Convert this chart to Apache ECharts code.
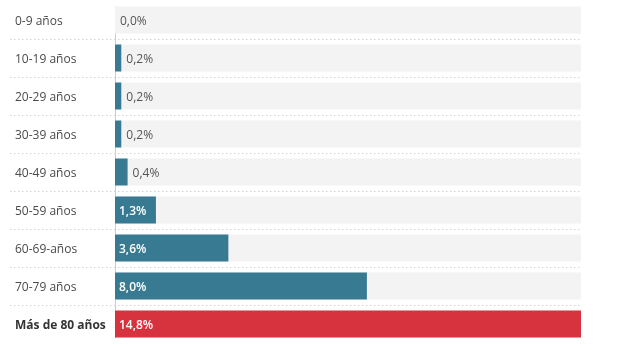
<!DOCTYPE html>
<html><head><meta charset="utf-8">
<script src="https://cdn.jsdelivr.net/npm/echarts@6/dist/echarts.min.js"></script>
<style>html,body{margin:0;padding:0;background:#fff}#c{width:618px;height:351px}</style>
</head><body><div id="c"></div>
<script>
const categories = ['0-9 años','10-19 años','20-29 años','30-39 años','40-49 años','50-59 años','60-69-años','70-79 años','Más de 80 años'];
const values = [0.0, 0.2, 0.2, 0.2, 0.4, 1.3, 3.6, 8.0, 14.8];
const highlight = 'Más de 80 años';
const insideThreshold = 1;
const maxValue = 14.8;

const FONT = '"Open Sans", sans-serif';
const fmt = v => v.toFixed(1).replace('.', ',') + '%';

const chart = echarts.init(document.getElementById('c'), null, {renderer: 'canvas'});
const data = values.map((v, i) => {
  const cat = categories[i];
  const inside = v >= insideThreshold;
  return {
    value: v,
    itemStyle: {color: cat === highlight ? '#d7333f' : '#377a92'},
    label: inside
      ? {position: 'insideLeft', distance: 4, color: '#fff', fontWeight: 600}
      : {position: 'right', distance: 5, color: '#555', fontWeight: 'normal'}
  };
});

chart.setOption({
  animation: false,
  grid: [
    {left: 10, right: 37, top: 1, height: 342},
    {left: 115, right: 37, top: 1, height: 342},
    {left: 115, right: 37, top: 7, height: 331}
  ],
  xAxis: [
    {gridIndex: 0, type: 'value', min: 0, max: 1, show: false},
    {gridIndex: 1, type: 'value', min: 0, max: maxValue, show: false},
    {gridIndex: 2, type: 'value', min: 0, max: 1, show: false}
  ],
  yAxis: [
    {gridIndex: 0, type: 'category', inverse: true, data: categories,
     axisLine: {show: false}, axisTick: {show: false},
     axisLabel: {inside: true, margin: 5, fontFamily: FONT, fontSize: 12, color: '#4a4a4a',
       padding: [4, 0, 0, 0],
       formatter: v => v === highlight ? '{b|' + v + '}' : v,
       rich: {b: {fontWeight: 'bold', color: '#333', fontFamily: FONT, fontSize: 12}}},
     splitLine: {show: true, showMinLine: false, showMaxLine: false,
       lineStyle: {type: [1.5, 2.5], color: '#d4d4d4', width: 1}}},
    {gridIndex: 1, type: 'category', inverse: true, data: categories,
     axisLine: {show: false}, axisTick: {show: false}, axisLabel: {show: false}, splitLine: {show: false}},
    {gridIndex: 2, type: 'category', inverse: true, data: categories,
     axisLine: {show: true, lineStyle: {color: '#cccccc', width: 1}},
     axisTick: {show: false}, axisLabel: {show: false}, splitLine: {show: false}}
  ],
  series: [{
    type: 'bar', xAxisIndex: 1, yAxisIndex: 1,
    data: data,
    barWidth: 27,
    showBackground: true,
    backgroundStyle: {color: '#f3f3f3'},
    label: {show: true, fontFamily: FONT, fontSize: 12, offset: [0, 2], formatter: p => fmt(p.value)}
  }]
});
</script></body></html>
